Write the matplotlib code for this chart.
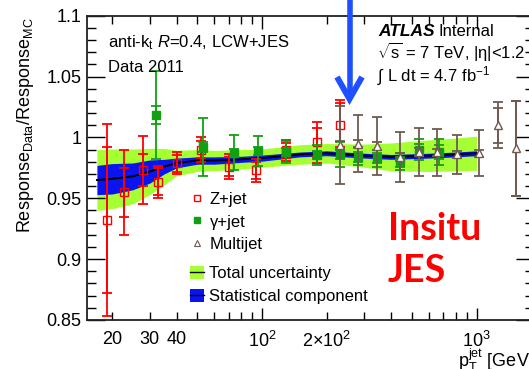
import matplotlib
matplotlib.use("Agg")
import matplotlib.pyplot as plt
import numpy as np
from matplotlib.lines import Line2D
from matplotlib.patches import Patch
from matplotlib.ticker import MultipleLocator

plt.rcParams['font.family'] = ['Liberation Sans', 'DejaVu Sans']
plt.rcParams['mathtext.fontset'] = 'custom'
plt.rcParams['mathtext.rm'] = 'Liberation Sans'
plt.rcParams['mathtext.it'] = 'Liberation Sans:italic'
plt.rcParams['mathtext.bf'] = 'Liberation Sans:bold'

# ---------------- data ----------------
band_pt = [17, 20, 25, 30, 35, 40, 50, 60, 80, 100, 150, 200, 300, 400, 600, 800, 1000]
band_center = [0.965, 0.966, 0.968, 0.972, 0.976, 0.979, 0.981, 0.981, 0.982, 0.983,
               0.986, 0.987, 0.985, 0.984, 0.985, 0.986, 0.987]
band_stat = [0.012, 0.0125, 0.011, 0.0095, 0.006, 0.004, 0.003, 0.003, 0.0025, 0.0025,
             0.002, 0.002, 0.002, 0.002, 0.002, 0.002, 0.002]
band_total = [0.025, 0.0245, 0.0225, 0.019, 0.015, 0.0105, 0.009, 0.0083, 0.008, 0.0075,
              0.008, 0.008, 0.0095, 0.0115, 0.013, 0.0135, 0.014]

z_pt = [18.9, 22.8, 28, 32.9, 40, 52, 70, 94, 129, 181, 231]
z_val = [0.932, 0.955, 0.973, 0.9636, 0.9787, 0.990, 0.976, 0.973, 0.9895, 0.996, 1.010]
z_stat = [0.060, 0.020, 0.013, 0.011, 0.007, 0.007, 0.008, 0.007, 0.006, 0.012, 0.018]
z_total = [0.079, 0.035, 0.028, 0.013, 0.009, 0.0105, 0.0105, 0.0095, 0.0085, 0.017, 0.0205]

g_pt = [31.9, 53.2, 74.3, 96, 129, 181, 231, 281, 343, 440, 540, 669]
g_val = [1.0183, 0.9923, 0.9874, 0.9888, 0.988, 0.9855, 0.986, 0.984, 0.9828, 0.980, 0.990, 0.988]
g_stat = [0.0075, 0.004, 0.003, 0.003, 0.003, 0.003, 0.004, 0.004, 0.004, 0.004, 0.005, 0.006]
g_total = [0.036, 0.024, 0.0145, 0.012, 0.009, 0.008, 0.010, 0.007, 0.007, 0.007, 0.0085, 0.0105]

m_pt = [231, 281, 343, 440, 540, 652, 812, 1027, 1264, 1526]
m_val = [0.9937, 0.995, 0.993, 0.984, 0.988, 0.9877, 0.986, 0.987, 1.010, 0.991]
m_stat = [0.003, 0.003, 0.003, 0.003, 0.003, 0.003, 0.003, 0.003, 0.0145, 0.039]
m_total = [0.032, 0.0235, 0.0235, 0.0205, 0.020, 0.0195, 0.016, 0.019, 0.019, 0.039]

y_ticks = [0.85, 0.9, 0.95, 1.0, 1.05, 1.1]
y_ticklabels = ['0.85', '0.9', '0.95', '1', '1.05', '1.1']
x_major = [100, 1000]
x_major_labels = ['10$^{2}$', '10$^{3}$']
x_minor_labeled = {20: '20', 30: '30', 40: '40', 200: '2×10$^{2}$'}

# ---------------- style ----------------
RED = '#ff0000'
GREEN = '#12a012'
BROWN = '#705a50'
LIME = '#a6ff33'
BLUE = '#0a14f0'
ARROW = '#1f50ff'

W, H = 529, 369
fig = plt.figure(figsize=(W / 100, H / 100), dpi=100)
fig.patch.set_facecolor('white')

x_left, x_right, y_top, y_bot = 86.7, 534.0, 15.7, 320.0
ax = fig.add_axes([x_left / W, (H - y_bot) / H, (x_right - x_left) / W, (y_bot - y_top) / H])
ax.set_xscale('log')

# bands
bp = np.array(band_pt)
bc = np.array(band_center)
ax.fill_between(bp, bc - np.array(band_total), bc + np.array(band_total), color=LIME, lw=0, zorder=1)
ax.fill_between(bp, bc - np.array(band_stat), bc + np.array(band_stat), color=BLUE, lw=0, zorder=2)
ax.plot(bp, bc, color='black', lw=1.4, zorder=3)


def draw_series(pt, val, stat, tot, color, marker, mfc, ms, z):
    ax.errorbar(pt, val, yerr=tot, fmt='none', ecolor=color, elinewidth=1.3,
                capsize=3.5, capthick=1.3, zorder=z)
    ax.errorbar(pt, val, yerr=stat, fmt='none', ecolor=color, elinewidth=1.3,
                capsize=3.5, capthick=1.3, zorder=z)
    ax.plot(pt, val, ls='none', marker=marker, mfc=mfc, mec=color, ms=ms, mew=1.0, zorder=z + 0.5)


draw_series(z_pt, z_val, z_stat, z_total, RED, 's', 'none', 5.8, 5)
draw_series(g_pt, g_val, g_stat, g_total, GREEN, 's', GREEN, 5.8, 6)
draw_series(m_pt, m_val, m_stat, m_total, BROWN, '^', 'white', 6.3, 7)

# ticks
ax.set_yticks(y_ticks)
ax.set_yticklabels(y_ticklabels)
ax.yaxis.set_minor_locator(MultipleLocator(0.01))
ax.set_xticks(x_major)
ax.set_xticklabels(x_major_labels)
minor_locs = [v * d for d in (10, 100, 1000) for v in range(2, 10)]
ax.set_xticks(minor_locs, [x_minor_labeled.get(v, '') for v in minor_locs], minor=True)
ax.tick_params(axis='both', which='both', direction='in', top=True, right=True,
               labelsize=13, colors='black', width=1.0)
ax.tick_params(axis='y', which='major', length=13, pad=4)
ax.tick_params(axis='y', which='minor', length=6.5)
ax.tick_params(axis='x', which='major', length=9, pad=8)
ax.tick_params(axis='x', which='minor', length=6, pad=8)
for s in ax.spines.values():
    s.set_linewidth(1.3)
    s.set_color('#222222')

# limits (after ticks, since set_xticks may expand the view)
ax.set_xlim(10 ** (2 - (262 - x_left) / 214.5), 10 ** (2 + (x_right - 262) / 214.5))
ax.set_ylim(0.85, 1.1)

# legends
h_z = Line2D([], [], ls='none', marker='s', mfc='white', mec=RED, ms=5, mew=1.0)
h_g = Line2D([], [], ls='none', marker='s', color=GREEN, ms=5)
h_m = Line2D([], [], ls='none', marker='^', mfc='white', mec=BROWN, ms=5, mew=0.8)
h_t = (Patch(fc=LIME, ec='none'), Line2D([], [], color='black', lw=1))
h_s = (Patch(fc=BLUE, ec='none'), Line2D([], [], color='black', lw=1))
ax_w = x_right - x_left
ax_h = y_bot - y_top
leg1 = ax.legend([h_z, h_g, h_m], ['Z+jet', 'γ+jet', 'Multijet'],
                 loc='upper left', bbox_to_anchor=((190 - x_left) / ax_w, (y_bot - 192) / ax_h),
                 frameon=False, fontsize=12, borderpad=0, borderaxespad=0,
                 handlelength=0.85, handleheight=0.85, handletextpad=0.35, labelspacing=0.41)
ax.add_artist(leg1)
leg2 = ax.legend([h_t, h_s], ['Total uncertainty', 'Statistical component'],
                 loc='upper left', bbox_to_anchor=((190 - x_left) / ax_w, (y_bot - 266) / ax_h),
                 frameon=False, fontsize=12, borderpad=0, borderaxespad=0,
                 handlelength=0.85, handleheight=0.85, handletextpad=0.3, labelspacing=0.45)


def ftext(x, y, s, **kw):
    fig.text(x / W, 1 - y / H, s, **kw)


# annotations
ftext(108.3, 47.7, r'anti-k$_{\mathrm{t}}$ $\mathit{R}$=0.4, LCW+JES', fontsize=12, va='baseline')
ftext(108.3, 71.7, 'Data 2011', fontsize=12, va='baseline')
ftext(378.3, 36.3, 'ATLAS', fontsize=12.5, va='baseline', fontweight='bold', fontstyle='italic')
ftext(438.5, 36.3, 'Internal', fontsize=12, va='baseline')
ftext(377, 58.3, r'$\sqrt{\mathrm{s}}$ = 7 TeV, |η|<1.2', fontsize=12, va='baseline')
ftext(377, 81.7, r'∫ L dt = 4.7 fb$^{\mathrm{-1}}$', fontsize=12, va='baseline')

ftext(388, 240, 'Insitu', fontsize=27, va='baseline', color=RED, family='Lato', fontweight='bold')
ftext(388, 281.7, 'JES', fontsize=27, va='baseline', color=RED, family='Lato', fontweight='bold')

# axis titles
ftext(25.5, 17, r'Response$_{\mathrm{Data}}$/Response$_{\mathrm{MC}}$', fontsize=13,
      rotation=90, ha='center', va='top')
ftext(458, 367, r'p$_{\mathrm{T}}^{\mathrm{jet}}$ [GeV]', fontsize=13, va='baseline')

# arrow
fig.add_artist(Line2D([349.5 / W, 349.5 / W], [1 - 0 / H, 1 - 97 / H], transform=fig.transFigure,
                      color=ARROW, lw=4.0, solid_capstyle='butt'))
fig.add_artist(Line2D([337 / W, 349.5 / W, 362 / W], [1 - 77 / H, 1 - 99 / H, 1 - 77 / H],
                      transform=fig.transFigure, color=ARROW, lw=4.3,
                      solid_joinstyle='miter', solid_capstyle='butt'))

fig.savefig('out.png', dpi=100)
